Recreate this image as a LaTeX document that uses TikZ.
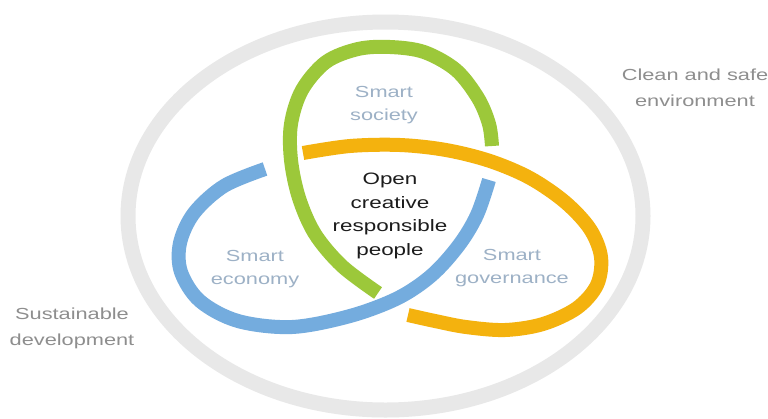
\documentclass[tikz,border=0pt]{standalone}
\usepackage{fontspec}
\setmainfont{Liberation Sans}[FakeStretch=1.36]
\definecolor{ringgrey}{HTML}{E8E8E8}
\definecolor{kgreen}{HTML}{9CC83A}
\definecolor{kblue}{HTML}{74ACDE}
\definecolor{korange}{HTML}{F4B20E}
\definecolor{labblue}{HTML}{9DB1C6}
\definecolor{outgrey}{HTML}{8E8E8E}
\definecolor{coretext}{HTML}{1C1C1C}
\tikzset{
  band/.style={line width=14pt, line cap=butt, line join=round},
  ring/.style={line width=15pt, draw=ringgrey},
  lab/.style={text=labblue, align=center, inner sep=0pt, font=\fontsize{16}{23.5}\selectfont},
  corelab/.style={text=coretext, align=center, inner sep=0pt, font=\fontsize{16.5}{23.5}\selectfont},
  outlab/.style={text=outgrey, align=center, inner sep=0pt, font=\fontsize{16}{26}\selectfont},
}
\begin{document}
\begin{tikzpicture}[x=1pt,y=-1pt]
\useasboundingbox (0,0) rectangle (768,418);
\fill[white] (0,0) rectangle (768,418);
% outer ring
\draw[ring] (385.5,216) ellipse [x radius=257.5, y radius=194];
% green lobe (top)
\draw[band, kgreen] plot[smooth, tension=0.55] coordinates {
  (378,293) (342,266) (315,234) (299,198) (291,160) (291,124) (302,90)
  (326,62) (358,49) (390,47) (424,52) (456,70) (478,98) (489,124) (492,146)};
% blue lobe (lower left)
\draw[band, kblue] plot[smooth, tension=0.55] coordinates {
  (489,180) (477,215) (459,245) (432,275) (398,298) (350,316) (292,327)
  (238,321) (200,301) (181,272) (180,243) (194,213) (224,186) (265,169)};
% orange lobe (lower right)
\draw[band, korange] plot[smooth, tension=0.55] coordinates {
  (303,153) (350,146) (400,145) (446,150) (490,161) (530,178) (565,202)
  (590,229) (601,257) (597,285) (577,308) (543,324) (505,330) (466,327)
  (435,321) (408,315)};
% labels
\node[lab] (soc) at (384,105) {Smart\\society};
\node[lab] (eco) at (255,269) {Smart\\economy};
\node[lab] (gov) at (512,268) {Smart\\governance};
\node[corelab] (core) at (390,216) {Open\\creative\\responsible\\people};
\node[outlab] (env) at (695,88) {Clean and safe\\environment};
\node[outlab] (sus) at (72,328) {Sustainable\\development};
\end{tikzpicture}
\end{document}
